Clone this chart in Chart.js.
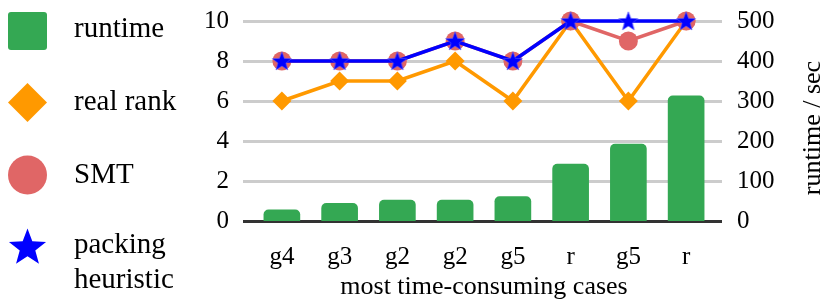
<!DOCTYPE html>
<html>
<head>
<meta charset="utf-8">
<script src="https://cdn.jsdelivr.net/npm/chart.js@4"></script>
<style>
  body { margin: 0; background: #fff; }
  canvas { display: block; }
</style>
</head>
<body>
<canvas id="grafic" width="832" height="303"></canvas>
<script>
const labels = ['g4', 'g3', 'g2', 'g2', 'g5', 'r', 'g5', 'r'];
const runtimeValue = [28, 44, 52, 52, 61, 142, 192, 313];
const realRankValue = [6, 7, 7, 8, 6, 10, 6, 10];
const smtValue = [8, 8, 8, 9, 8, 10, 9, 10];
const packingValue = [8, 8, 8, 9, 8, 10, 10, 10];

const green = '#34a853';
const orange = '#ff9900';
const red = '#e06666';
const blue = '#0000ff';
const serif = "'Liberation Serif', 'Times New Roman', serif";

function starPath(ctx, cx, cy, r) {
    const inner = r * 0.42;
    ctx.beginPath();
    for (let i = 0; i < 10; i++) {
        let rad = i % 2 == 0 ? r : inner;
        let a = -Math.PI / 2 + i * Math.PI / 5;
        let px = cx + Math.cos(a) * rad;
        let py = cy + Math.sin(a) * rad;
        if (i == 0) ctx.moveTo(px, py); else ctx.lineTo(px, py);
    }
    ctx.closePath();
}

// filled star, Chart.js 'star' is only an asterisk
const starImg = document.createElement('canvas');
starImg.width = 22;
starImg.height = 22;
let sctx = starImg.getContext('2d');
starPath(sctx, 11, 11.8, 10);
sctx.fillStyle = blue;
sctx.fill();
sctx.strokeStyle = '#5555ff';
sctx.lineWidth = 0.6;
sctx.stroke();

// grid lines a bit wider than the plot area, like the original
const gridPlugin = {
    id: 'gridLines',
    beforeDatasetsDraw: function(chart) {
        const ctx = chart.ctx;
        const area = chart.chartArea;
        const y = chart.scales.y;
        ctx.save();
        y.ticks.forEach(t => {
            let py = Math.round(y.getPixelForValue(t.value)) + 0.5;
            ctx.beginPath();
            ctx.moveTo(area.left - 10, py);
            ctx.lineTo(area.right + 7, py);
            ctx.lineWidth = 3;
            ctx.strokeStyle = t.value == 0 ? '#333333' : '#cccccc';
            ctx.stroke();
        });
        ctx.restore();
    },
    afterDraw: function(chart) {
        const ctx = chart.ctx;
        ctx.save();
        // right axis title, reading bottom to top
        ctx.font = '26px ' + serif;
        ctx.fillStyle = '#000';
        ctx.textAlign = 'center';
        ctx.textBaseline = 'middle';
        ctx.translate(813, 128);
        ctx.rotate(-Math.PI / 2);
        ctx.fillText('runtime / sec', 0, 0);
        ctx.restore();

        // legend
        ctx.save();
        ctx.fillStyle = green;
        ctx.beginPath();
        ctx.roundRect(8, 12, 39, 38, 3);
        ctx.fill();

        ctx.fillStyle = orange;
        ctx.beginPath();
        ctx.moveTo(8, 102.5);
        ctx.lineTo(27.5, 83);
        ctx.lineTo(47, 102.5);
        ctx.lineTo(27.5, 122);
        ctx.closePath();
        ctx.fill();

        ctx.fillStyle = red;
        ctx.beginPath();
        ctx.arc(27.5, 175, 19.5, 0, Math.PI * 2);
        ctx.fill();

        ctx.fillStyle = blue;
        starPath(ctx, 27.5, 248, 19.5);
        ctx.fill();

        ctx.fillStyle = '#000';
        ctx.font = '29px ' + serif;
        ctx.textAlign = 'left';
        ctx.textBaseline = 'alphabetic';
        ctx.fillText('runtime', 74, 37);
        ctx.fillText('real rank', 74, 110);
        ctx.fillText('SMT', 74, 183);
        ctx.fillText('packing', 74, 253);
        ctx.fillText('heuristic', 74, 288);
        ctx.restore();
    }
};

Chart.defaults.font.family = serif;
Chart.defaults.color = '#000';

const ctx = document.getElementById('grafic').getContext('2d');

const myChart = new Chart(ctx, {
    data: {
        labels: labels,
        datasets: [{
                type: 'line',
                label: 'packing heuristic',
                data: packingValue,
                yAxisID: 'y',
                borderColor: blue,
                borderWidth: 3.5,
                pointStyle: starImg,
                clip: false,
                order: 0
            },
            {
                type: 'line',
                label: 'SMT',
                data: smtValue,
                yAxisID: 'y',
                borderColor: red,
                backgroundColor: red,
                borderWidth: 3.5,
                pointStyle: 'circle',
                pointRadius: 9.5,
                pointBorderWidth: 0,
                clip: false,
                order: 1
            },
            {
                type: 'line',
                label: 'real rank',
                data: realRankValue,
                yAxisID: 'y',
                borderColor: orange,
                backgroundColor: orange,
                borderWidth: 3.5,
                pointStyle: 'rectRot',
                pointRadius: 9.5,
                pointBorderWidth: 0,
                clip: false,
                order: 2
            },
            {
                type: 'bar',
                label: 'runtime',
                data: runtimeValue,
                yAxisID: 'y1',
                backgroundColor: green,
                borderRadius: 5,
                barThickness: 36,
                order: 3
            }
        ]
    },
    options: {
        responsive: false,
        animation: false,
        layout: { padding: { top: 21, left: 0, right: 0, bottom: 0 } },
        plugins: {
            legend: { display: false },
            tooltip: { enabled: false }
        },
        scales: {
            x: {
                type: 'category',
                offset: true,
                grid: { display: false, drawTicks: false },
                border: { display: false },
                ticks: { font: { size: 25 }, padding: 21, color: '#000' },
                title: {
                    display: true,
                    text: 'most time-consuming cases',
                    font: { size: 26 },
                    color: '#000',
                    padding: { top: 0, bottom: 0 }
                },
                afterFit: function(scale) { scale.height = 82; }
            },
            y: {
                position: 'left',
                min: 0,
                max: 10,
                grid: { display: false, drawTicks: true, tickLength: 22 },
                border: { display: false },
                ticks: { stepSize: 2, font: { size: 25 }, padding: 2, color: '#000' },
                afterFit: function(scale) { scale.width = 253; }
            },
            y1: {
                position: 'right',
                min: 0,
                max: 500,
                grid: { display: false, drawTicks: true, tickLength: 20 },
                border: { display: false },
                ticks: { stepSize: 100, font: { size: 25 }, padding: 2, color: '#000' },
                afterFit: function(scale) { scale.width = 117; }
            }
        }
    },
    plugins: [gridPlugin]
});
</script>
</body>
</html>
